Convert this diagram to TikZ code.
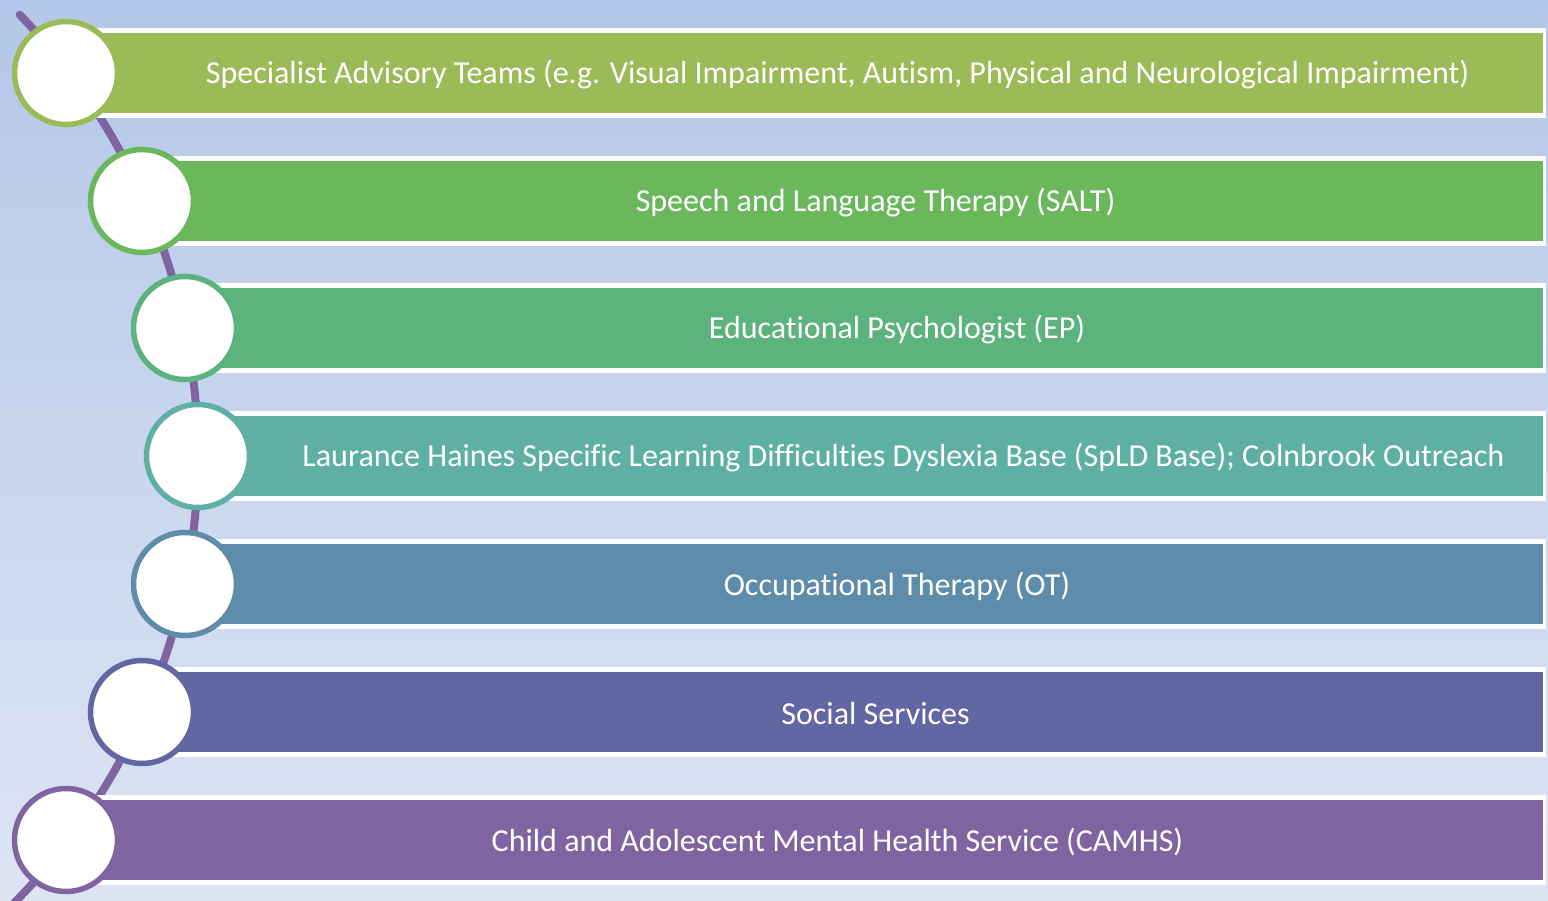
\documentclass[tikz,border=0pt]{standalone}
\usepackage{fontspec}
\setmainfont[Ligatures=CommonOff]{Carlito}
\usetikzlibrary{calc}
\definecolor{bgtop}{RGB}{180,199,232}
\definecolor{bgbot}{RGB}{221,229,243}
\definecolor{pathline}{RGB}{128,100,162}
\definecolor{teamcol}{RGB}{155,187,89}
\definecolor{saltcol}{RGB}{106,183,92}
\definecolor{epcol}{RGB}{93,179,126}
\definecolor{spldcol}{RGB}{94,176,165}
\definecolor{otcol}{RGB}{94,140,171}
\definecolor{sscol}{RGB}{97,103,163}
\definecolor{camhscol}{RGB}{128,100,162}
\tikzset{
	barlabel/.style={text=white, inner sep=0pt, font=\fontsize{32}{38}\selectfont},
	dot/.style={circle, fill=white, line width=5.5pt, minimum size=103pt, inner sep=0pt},
}
% name, x, y, colour, text
\newcommand\servicebar[5]{
	\fill[white] (#2, #3-45) rectangle (1546, #3+45);
	\fill[#4] (#2, #3-40) rectangle (1543, #3+40);
	\node[barlabel] (#1-text) at ({(#2+1609)/2}, #3+2) {#5};
	\node[dot, draw=#4] (#1) at (#2, #3) {};
}

\begin{document}
\begin{tikzpicture}[x=1pt, y=-1pt]
		%%%%% START %%%%%
		
		\useasboundingbox (0, 0) rectangle (1548, 901);
		\clip (0, 0) rectangle (1548, 901);
		\shade[top color=bgtop, bottom color=bgbot] (0, 0) rectangle (1548, 901);
		
		\draw[line width=8pt, color=pathline, line cap=round] plot[domain=-44:47, samples=80] ({-437.3+635.3*cos(\x)}, {456+635.3*sin(\x)});
		
		\servicebar{teams}{66}{73}{teamcol}{Specialist Advisory Teams (e.g. Visual Impairment, Autism, Physical and Neurological Impairment)}
		\servicebar{salt}{142}{201}{saltcol}{Speech and Language Therapy (SALT)}
		\servicebar{ep}{185}{328}{epcol}{Educational Psychologist (EP)}
		\servicebar{spld}{198}{456}{spldcol}{Laurance Haines Specific Learning Difficulties Dyslexia Base (SpLD Base); Colnbrook Outreach}
		\servicebar{ot}{185}{584}{otcol}{Occupational Therapy (OT)}
		\servicebar{social}{142}{712}{sscol}{Social Services}
		\servicebar{camhs}{66}{840}{camhscol}{Child and Adolescent Mental Health Service (CAMHS)}
		
		%%%%% END %%%%%
	\end{tikzpicture}
\end{document}
